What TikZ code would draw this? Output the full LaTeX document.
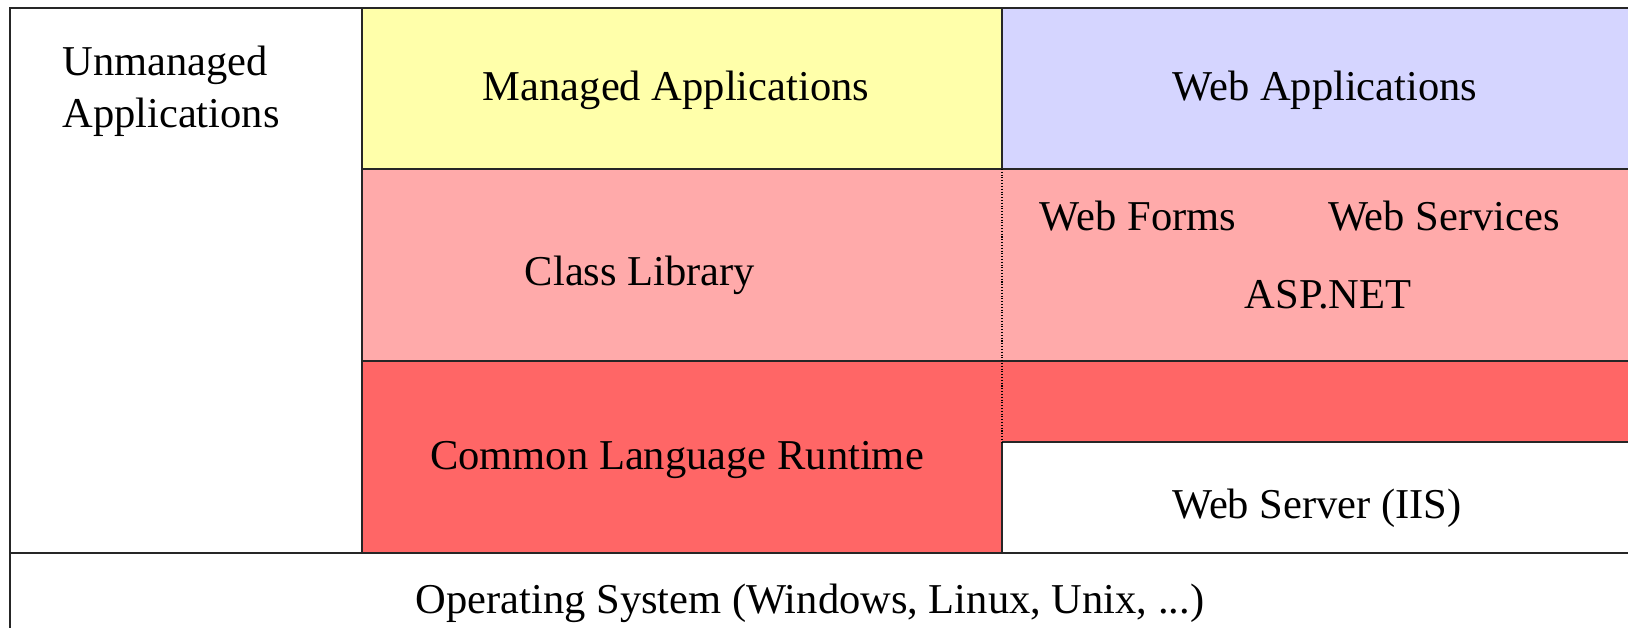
\documentclass[tikz,border=0pt]{standalone}
\usepackage{fontspec}
\setmainfont{Liberation Serif}
\definecolor{mgdyellow}{HTML}{FFFFAA}
\definecolor{webblue}{HTML}{D5D5FF}
\definecolor{libpink}{HTML}{FFAAAA}
\definecolor{clrred}{HTML}{FF6666}
\begin{document}
\begin{tikzpicture}[x=0.02cm,y=-0.02cm,font=\fontsize{24.2}{29.5}\selectfont,
			lbl/.style={inner sep=0pt,text height=0.7em,text depth=0.2em},
			rule/.style={draw=black!85,line width=1pt}]
			\useasboundingbox (0,0) rectangle (1628,627);
			% layers
			\fill[mgdyellow] (362,8) rectangle (1002,169);
			\fill[webblue] (1002,8) rectangle (1650,169);
			\fill[libpink] (362,169) rectangle (1650,361);
			\fill[clrred] (362,361) rectangle (1650,442);
			\fill[clrred] (362,442) rectangle (1002,553);
			% frame
			\draw[rule] (1650,8)--(10,8)--(10,640);
			\draw[rule] (10,553)--(1650,553) (362,8)--(362,553);
			\draw[rule] (362,169)--(1650,169) (362,361)--(1650,361) (1002,442)--(1650,442);
			\draw[rule] (1002,8)--(1002,169) (1002,442)--(1002,553);
			\draw[black,line width=0.6pt,densely dotted] (1002,169)--(1002,442);
			% labels
			\node[anchor=west,align=left,inner sep=0pt] (unmgd) at (62,91) {Unmanaged\\Applications};
			\node[lbl] (mgdapp) at (676,96) {Managed Applications};
			\node[lbl] (webapp) at (1325,96) {Web Applications};
			\node[lbl] (classlib) at (640,281) {Class Library};
			\node[lbl] (webforms) at (1138,226) {Web Forms};
			\node[lbl] (websvc) at (1444,226) {Web Services};
			\node[lbl] (aspnet) at (1328,304) {ASP.NET};
			\node[lbl] (clr) at (677,465) {Common Language Runtime};
			\node[lbl] (iis) at (1317,514) {Web Server (IIS)};
			\node[lbl] (os) at (810,609) {Operating System (Windows, Linux, Unix, ...)};
\end{tikzpicture}
\end{document}
